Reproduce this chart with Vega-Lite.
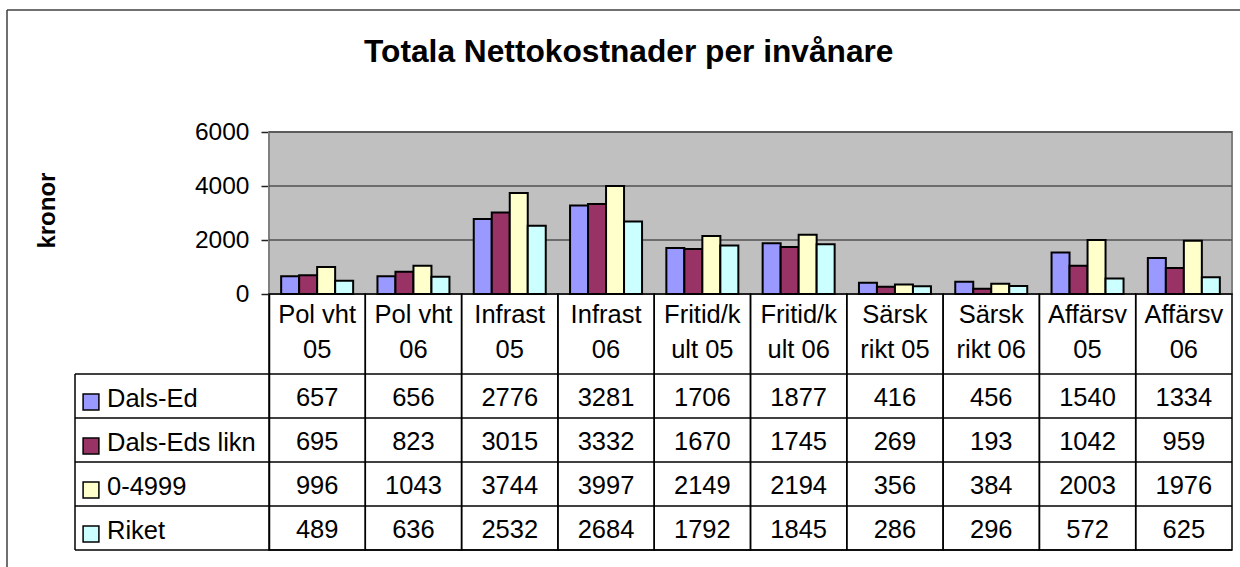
{
  "$schema": "https://vega.github.io/schema/vega-lite/v6.json",
  "width": 963,
  "height": 418,
  "autosize": {"type": "none"},
  "padding": {"left": 269, "top": 132, "right": 8, "bottom": 17},
  "background": "white",
  "config": {"font": "Liberation Sans", "view": {"stroke": null}, "text": {"color": "black"}},
  "datasets": {
    "vals": [
      {"cat": "Pol vht 05", "series": "Dals-Ed", "value": 657},
      {"cat": "Pol vht 05", "series": "Dals-Eds likn", "value": 695},
      {"cat": "Pol vht 05", "series": "0-4999", "value": 996},
      {"cat": "Pol vht 05", "series": "Riket", "value": 489},
      {"cat": "Pol vht 06", "series": "Dals-Ed", "value": 656},
      {"cat": "Pol vht 06", "series": "Dals-Eds likn", "value": 823},
      {"cat": "Pol vht 06", "series": "0-4999", "value": 1043},
      {"cat": "Pol vht 06", "series": "Riket", "value": 636},
      {"cat": "Infrast 05", "series": "Dals-Ed", "value": 2776},
      {"cat": "Infrast 05", "series": "Dals-Eds likn", "value": 3015},
      {"cat": "Infrast 05", "series": "0-4999", "value": 3744},
      {"cat": "Infrast 05", "series": "Riket", "value": 2532},
      {"cat": "Infrast 06", "series": "Dals-Ed", "value": 3281},
      {"cat": "Infrast 06", "series": "Dals-Eds likn", "value": 3332},
      {"cat": "Infrast 06", "series": "0-4999", "value": 3997},
      {"cat": "Infrast 06", "series": "Riket", "value": 2684},
      {"cat": "Fritid/kult 05", "series": "Dals-Ed", "value": 1706},
      {"cat": "Fritid/kult 05", "series": "Dals-Eds likn", "value": 1670},
      {"cat": "Fritid/kult 05", "series": "0-4999", "value": 2149},
      {"cat": "Fritid/kult 05", "series": "Riket", "value": 1792},
      {"cat": "Fritid/kult 06", "series": "Dals-Ed", "value": 1877},
      {"cat": "Fritid/kult 06", "series": "Dals-Eds likn", "value": 1745},
      {"cat": "Fritid/kult 06", "series": "0-4999", "value": 2194},
      {"cat": "Fritid/kult 06", "series": "Riket", "value": 1845},
      {"cat": "Särsk rikt 05", "series": "Dals-Ed", "value": 416},
      {"cat": "Särsk rikt 05", "series": "Dals-Eds likn", "value": 269},
      {"cat": "Särsk rikt 05", "series": "0-4999", "value": 356},
      {"cat": "Särsk rikt 05", "series": "Riket", "value": 286},
      {"cat": "Särsk rikt 06", "series": "Dals-Ed", "value": 456},
      {"cat": "Särsk rikt 06", "series": "Dals-Eds likn", "value": 193},
      {"cat": "Särsk rikt 06", "series": "0-4999", "value": 384},
      {"cat": "Särsk rikt 06", "series": "Riket", "value": 296},
      {"cat": "Affärsv 05", "series": "Dals-Ed", "value": 1540},
      {"cat": "Affärsv 05", "series": "Dals-Eds likn", "value": 1042},
      {"cat": "Affärsv 05", "series": "0-4999", "value": 2003},
      {"cat": "Affärsv 05", "series": "Riket", "value": 572},
      {"cat": "Affärsv 06", "series": "Dals-Ed", "value": 1334},
      {"cat": "Affärsv 06", "series": "Dals-Eds likn", "value": 959},
      {"cat": "Affärsv 06", "series": "0-4999", "value": 1976},
      {"cat": "Affärsv 06", "series": "Riket", "value": 625}
    ],
    "cats": [
      {"cat": "Pol vht 05", "label": ["Pol vht", "05"]},
      {"cat": "Pol vht 06", "label": ["Pol vht", "06"]},
      {"cat": "Infrast 05", "label": ["Infrast", "05"]},
      {"cat": "Infrast 06", "label": ["Infrast", "06"]},
      {"cat": "Fritid/kult 05", "label": ["Fritid/k", "ult 05"]},
      {"cat": "Fritid/kult 06", "label": ["Fritid/k", "ult 06"]},
      {"cat": "Särsk rikt 05", "label": ["Särsk", "rikt 05"]},
      {"cat": "Särsk rikt 06", "label": ["Särsk", "rikt 06"]},
      {"cat": "Affärsv 05", "label": ["Affärsv", "05"]},
      {"cat": "Affärsv 06", "label": ["Affärsv", "06"]}
    ],
    "series": [
      {"series": "Dals-Ed"},
      {"series": "Dals-Eds likn"},
      {"series": "0-4999"},
      {"series": "Riket"}
    ],
    "grid": [{"tick": 2000}, {"tick": 4000}, {"tick": 6000}],
    "one": [{"note": "single"}]
  },
  "layer": [
    {
      "data": {"name": "one"},
      "mark": {"type": "rect", "fill": "#C0C0C0", "stroke": "#808080", "strokeWidth": 2},
      "encoding": {
        "y": {"datum": 6000, "type": "quantitative", "scale": {"domain": [-9481.48, 6000], "nice": false, "zero": false}, "axis": null},
        "y2": {"datum": 0}
      }
    },
    {
      "data": {"name": "grid"},
      "mark": {"type": "rule", "color": "#505050", "strokeWidth": 1.5},
      "encoding": {"y": {"field": "tick", "type": "quantitative", "scale": {"domain": [-9481.48, 6000], "nice": false, "zero": false}, "axis": null}}
    },
    {
      "data": {"name": "vals"},
      "mark": {"type": "bar", "stroke": "black", "strokeWidth": 2},
      "encoding": {
        "x": {
          "field": "cat", "type": "nominal", "axis": null,
          "scale": {
            "type": "band",
            "domain": ["Pol vht 05", "Pol vht 06", "Infrast 05", "Infrast 06", "Fritid/kult 05", "Fritid/kult 06", "Särsk rikt 05", "Särsk rikt 06", "Affärsv 05", "Affärsv 06"],
            "paddingInner": 0, "paddingOuter": 0
          }
        },
        "xOffset": {
          "field": "series", "type": "nominal",
          "scale": {"domain": ["Dals-Ed", "Dals-Eds likn", "0-4999", "Riket"], "paddingInner": 0, "paddingOuter": 0.675}
        },
        "y": {
          "field": "value", "type": "quantitative", "stack": null,
          "scale": {"domain": [-9481.48, 6000], "nice": false, "zero": false},
          "axis": {
            "values": [0, 2000, 4000, 6000], "format": "d", "title": null, "grid": false, "orient": "left",
            "labelFontSize": 24.5, "labelColor": "black", "labelFont": "Liberation Sans",
            "labelPadding": 12, "tickSize": 8, "tickColor": "#222222", "tickWidth": 1.5,
            "domainColor": "black", "domainWidth": 1.5
          }
        },
        "color": {
          "field": "series", "type": "nominal", "legend": null,
          "scale": {"domain": ["Dals-Ed", "Dals-Eds likn", "0-4999", "Riket"], "range": ["#9999FF", "#993366", "#FFFFCC", "#CCFFFF"]}
        }
      }
    },
    {
      "data": {"name": "cats"},
      "mark": {"type": "rect", "fill": "white", "fillOpacity": 0, "stroke": "black", "strokeWidth": 1.5},
      "encoding": {
        "x": {"field": "cat", "type": "nominal", "axis": null},
        "y": {"datum": 0, "type": "quantitative", "scale": {"domain": [-9481.48, 6000], "nice": false, "zero": false}, "axis": null},
        "y2": {"datum": -9481.48}
      }
    },
    {
      "data": {"name": "one"},
      "mark": {"type": "rule", "color": "#404040", "strokeWidth": 1.5},
      "encoding": {
        "x": {"datum": "Pol vht 05", "type": "nominal", "bandPosition": -2.7207, "axis": null},
        "y": {"datum": 10518, "type": "quantitative", "scale": {"domain": [-9481.48, 6000], "nice": false, "zero": false}, "axis": null},
        "y2": {"datum": -10700}
      }
    },
    {
      "data": {"name": "one"},
      "mark": {"type": "rule", "color": "#404040", "strokeWidth": 1.5},
      "encoding": {
        "x": {"datum": "Pol vht 05", "type": "nominal", "bandPosition": -2.7207, "axis": null},
        "x2": {"datum": "Affärsv 06", "bandPosition": 1.3},
        "y": {"datum": 10518, "type": "quantitative", "scale": {"domain": [-9481.48, 6000], "nice": false, "zero": false}, "axis": null}
      }
    },
    {
      "data": {"name": "one"},
      "mark": {"type": "text", "angle": 270, "fontSize": 24, "fontWeight": "bold", "align": "center", "baseline": "middle", "color": "black"},
      "encoding": {
        "x": {"datum": "Pol vht 05", "type": "nominal", "bandPosition": -2.2949, "axis": null},
        "y": {"datum": 3090, "type": "quantitative", "scale": {"domain": [-9481.48, 6000], "nice": false, "zero": false}, "axis": null},
        "text": {"value": "kronor"}
      }
    },
    {
      "data": {"name": "one"},
      "mark": {"type": "text", "fontSize": 31.7, "fontWeight": "bold", "align": "center", "baseline": "alphabetic", "color": "black"},
      "encoding": {
        "x": {"datum": "Pol vht 05", "type": "nominal", "bandPosition": 3.736, "axis": null},
        "y": {"datum": 8604, "type": "quantitative", "scale": {"domain": [-9481.48, 6000], "nice": false, "zero": false}, "axis": null},
        "text": {"value": "Totala Nettokostnader per invånare"}
      }
    },
    {
      "data": {"name": "vals"},
      "mark": {"type": "text", "fontSize": 25.5, "align": "center", "baseline": "alphabetic", "color": "black"},
      "encoding": {
        "x": {"field": "cat", "type": "nominal", "axis": null},
        "y": {
          "field": "series", "type": "nominal", "bandPosition": 0.73, "axis": null,
          "scale": {"type": "band", "domain": ["_plot1", "_plot2", "_plot3", "_catrow", "Dals-Ed", "Dals-Eds likn", "0-4999", "Riket"], "paddingInner": 0, "paddingOuter": 0.75, "align": 1}
        },
        "text": {"field": "value", "type": "nominal"}
      }
    },
    {
      "data": {"name": "series"},
      "mark": {"type": "rule", "color": "black", "strokeWidth": 1.5},
      "encoding": {
        "y": {
          "field": "series", "type": "nominal", "bandPosition": 0, "axis": null,
          "scale": {"type": "band", "domain": ["_plot1", "_plot2", "_plot3", "_catrow", "Dals-Ed", "Dals-Eds likn", "0-4999", "Riket"], "paddingInner": 0, "paddingOuter": 0.75, "align": 1}
        },
        "x": {"datum": "Pol vht 05", "type": "nominal", "bandPosition": -2.0145, "axis": null},
        "x2": {"datum": "Affärsv 06", "bandPosition": 1}
      }
    },
    {
      "data": {"name": "one"},
      "mark": {"type": "rule", "color": "black", "strokeWidth": 1.5},
      "encoding": {
        "y": {
          "datum": "Riket", "type": "nominal", "bandPosition": 1, "axis": null,
          "scale": {"type": "band", "domain": ["_plot1", "_plot2", "_plot3", "_catrow", "Dals-Ed", "Dals-Eds likn", "0-4999", "Riket"], "paddingInner": 0, "paddingOuter": 0.75, "align": 1}
        },
        "x": {"datum": "Pol vht 05", "type": "nominal", "bandPosition": -2.0145, "axis": null},
        "x2": {"datum": "Affärsv 06", "bandPosition": 1}
      }
    },
    {
      "data": {"name": "one"},
      "mark": {"type": "rule", "color": "black", "strokeWidth": 1.5},
      "encoding": {
        "x": {"datum": "Pol vht 05", "type": "nominal", "bandPosition": -2.0145, "axis": null},
        "y": {
          "datum": "Dals-Ed", "type": "nominal", "bandPosition": 0, "axis": null,
          "scale": {"type": "band", "domain": ["_plot1", "_plot2", "_plot3", "_catrow", "Dals-Ed", "Dals-Eds likn", "0-4999", "Riket"], "paddingInner": 0, "paddingOuter": 0.75, "align": 1}
        },
        "y2": {"datum": "Riket", "bandPosition": 1}
      }
    },
    {
      "data": {"name": "series"},
      "mark": {"type": "point", "shape": "square", "filled": true, "size": 250, "stroke": "black", "strokeWidth": 1.5, "opacity": 1},
      "encoding": {
        "x": {"datum": "Pol vht 05", "type": "nominal", "bandPosition": -1.8484, "axis": null},
        "y": {
          "field": "series", "type": "nominal", "bandPosition": 0.636, "axis": null,
          "scale": {"type": "band", "domain": ["_plot1", "_plot2", "_plot3", "_catrow", "Dals-Ed", "Dals-Eds likn", "0-4999", "Riket"], "paddingInner": 0, "paddingOuter": 0.75, "align": 1}
        },
        "color": {"field": "series", "type": "nominal", "legend": null}
      }
    },
    {
      "data": {"name": "series"},
      "mark": {"type": "text", "fontSize": 25.5, "align": "left", "baseline": "alphabetic", "color": "black"},
      "encoding": {
        "x": {"datum": "Pol vht 05", "type": "nominal", "bandPosition": -1.6822, "axis": null},
        "y": {
          "field": "series", "type": "nominal", "bandPosition": 0.76, "axis": null,
          "scale": {"type": "band", "domain": ["_plot1", "_plot2", "_plot3", "_catrow", "Dals-Ed", "Dals-Eds likn", "0-4999", "Riket"], "paddingInner": 0, "paddingOuter": 0.75, "align": 1}
        },
        "text": {"field": "series", "type": "nominal"}
      }
    },
    {
      "data": {"name": "cats"},
      "mark": {"type": "text", "fontSize": 25.5, "align": "center", "baseline": "alphabetic", "lineHeight": 35, "color": "black"},
      "encoding": {
        "x": {"field": "cat", "type": "nominal", "axis": null},
        "y": {
          "datum": "Dals-Ed", "type": "nominal", "bandPosition": -1.152, "axis": null,
          "scale": {"type": "band", "domain": ["_plot1", "_plot2", "_plot3", "_catrow", "Dals-Ed", "Dals-Eds likn", "0-4999", "Riket"], "paddingInner": 0, "paddingOuter": 0.75, "align": 1}
        },
        "text": {"field": "label", "type": "nominal"}
      }
    }
  ],
  "resolve": {"scale": {"y": "independent"}, "axis": {"y": "independent"}}
}
